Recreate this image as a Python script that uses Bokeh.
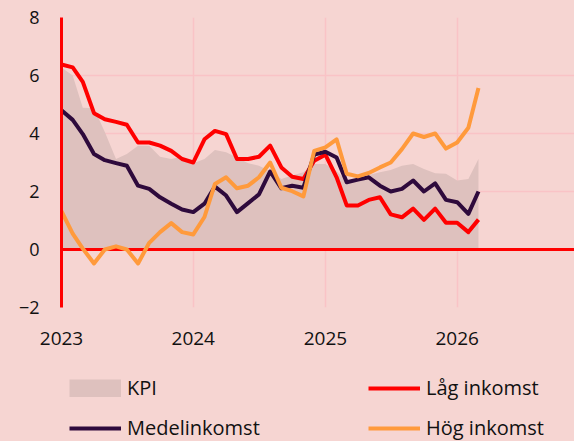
import pandas as pd
from bokeh.plotting import figure
from bokeh.layouts import column
from bokeh.models import (Range1d, FixedTicker, DatetimeTickFormatter, Legend,
                          LegendItem)
from bokeh.embed import file_html
from bokeh.resources import INLINE

# ---- data -------------------------------------------------------------
months = pd.date_range("2023-01-01", periods=39, freq="MS")

kpi = [6.28, 6.00, 4.89, 4.87, 4.05, 3.12, 3.29, 3.58, 3.58, 3.20, 3.12, 3.20,
       2.97, 3.12, 3.43, 3.35, 3.17, 2.97, 2.89, 2.70, 2.43, 2.55, 2.66, 2.95,
       2.95, 2.70, 2.35, 2.43, 2.57, 2.66, 2.74, 2.89, 2.95, 2.78, 2.63, 2.61,
       2.38, 2.43, 3.12]
lag = [6.38, 6.28, 5.78, 4.70, 4.49, 4.40, 4.30, 3.69, 3.69, 3.58, 3.40, 3.12,
       3.00, 3.80, 4.09, 3.98, 3.12, 3.12, 3.20, 3.58, 2.83, 2.51, 2.43, 3.06,
       3.27, 2.49, 1.52, 1.52, 1.71, 1.80, 1.21, 1.11, 1.41, 1.02, 1.41, 0.92,
       0.92, 0.60, 1.03]
medel = [4.80, 4.47, 3.98, 3.29, 3.08, 2.98, 2.89, 2.20, 2.09, 1.80, 1.58, 1.38,
         1.29, 1.58, 2.17, 1.86, 1.29, 1.60, 1.90, 2.69, 2.11, 2.20, 2.13, 3.27,
         3.37, 3.17, 2.32, 2.41, 2.49, 2.20, 2.00, 2.09, 2.38, 2.00, 2.28, 1.71,
         1.63, 1.23, 2.00]
hog = [1.32, 0.55, 0.03, -0.48, 0.00, 0.11, 0.00, -0.48, 0.23, 0.60, 0.91, 0.60,
       0.52, 1.12, 2.26, 2.49, 2.11, 2.20, 2.49, 3.00, 2.13, 2.01, 1.83, 3.40,
       3.52, 3.80, 2.61, 2.52, 2.64, 2.83, 3.00, 3.46, 4.00, 3.88, 4.00, 3.48,
       3.69, 4.20, 5.57]

year_ticks = ["2023-01-01", "2024-01-01", "2025-01-01", "2026-01-01"]
y_ticks = [-2, 0, 2, 4, 6, 8]
labels = ["KPI", "Låg inkomst", "Medelinkomst", "Hög inkomst"]

# ---- style ------------------------------------------------------------
BG = "#F6D5D2"
GRID = "#F9C3C6"
C_KPI = "#DEC1BE"
C_LAG = "#FF0000"
C_MED = "#2E0A3C"
C_HOG = "#FF9A3C"
FONT = "Open Sans"
TXT = "#111111"

x_ticks_ms = [pd.Timestamp(t).value / 1e6 for t in year_ticks]

# ---- main chart -------------------------------------------------------
p = figure(width=574, height=360, x_axis_type="datetime",
           output_backend="svg", toolbar_location=None,
           x_range=Range1d(pd.Timestamp("2023-01-01"), pd.Timestamp("2026-11-22")),
           y_range=Range1d(-2, 8),
           min_border_left=61, min_border_top=17, min_border_right=0,
           min_border_bottom=53)
p.background_fill_color = BG
p.border_fill_color = BG
p.outline_line_color = None

p.varea(x=months, y1=0, y2=kpi, fill_color=C_KPI)
p.hspan(y=[0], line_color=C_LAG, line_width=3)
p.line(months, lag, line_color=C_LAG, line_width=4, line_join="round")
p.line(months, medel, line_color=C_MED, line_width=4, line_join="round")
p.line(months, hog, line_color=C_HOG, line_width=4, line_join="round")

xa = p.xaxis[0]
xa.ticker = FixedTicker(ticks=x_ticks_ms)
xa.formatter = DatetimeTickFormatter(years="%Y", months="%Y", days="%Y")
xa.axis_line_color = None
xa.major_tick_line_color = None
xa.minor_tick_line_color = None
xa.major_tick_out = 0
xa.major_tick_in = 0
xa.major_label_standoff = 24
xa.major_label_text_font = FONT
xa.major_label_text_font_size = "19px"
xa.major_label_text_color = TXT

ya = p.yaxis[0]
ya.ticker = FixedTicker(ticks=y_ticks)
ya.axis_line_color = C_LAG
ya.axis_line_width = 3
ya.major_tick_line_color = None
ya.minor_tick_line_color = None
ya.major_tick_out = 0
ya.major_tick_in = 0
ya.major_label_standoff = 22
ya.major_label_text_font = FONT
ya.major_label_text_font_size = "18px"
ya.major_label_text_color = TXT

p.xgrid.ticker = FixedTicker(ticks=x_ticks_ms)
p.ygrid.ticker = FixedTicker(ticks=y_ticks)
for g in (p.xgrid[0], p.ygrid[0]):
    g.grid_line_color = GRID
    g.grid_line_width = 1.5

# ---- legend strip (proxy keys, drawn outside the visible range) -------
lg = figure(width=574, height=81, output_backend="svg", toolbar_location=None,
            x_range=Range1d(0, 1), y_range=Range1d(0, 1),
            x_axis_location=None, y_axis_location=None,
            min_border=0)
lg.background_fill_color = None
lg.border_fill_color = BG
lg.outline_line_color = None
lg.grid.visible = False

off = dict(x=[-5, -4], y=[-5, -5])
k_kpi = lg.line(line_color=C_KPI, line_width=18, line_cap="butt", **off)
k_lag = lg.line(line_color=C_LAG, line_width=4, **off)
k_med = lg.line(line_color=C_MED, line_width=4, **off)
k_hog = lg.line(line_color=C_HOG, line_width=4, **off)

legend = Legend(
    items=[LegendItem(label=labels[0], renderers=[k_kpi]),
           LegendItem(label=labels[2], renderers=[k_med]),
           LegendItem(label=labels[1], renderers=[k_lag]),
           LegendItem(label=labels[3], renderers=[k_hog])],
    orientation="vertical", ncols=2, location=(8, 0),
    glyph_width=52, glyph_height=18, label_standoff=6,
    label_width=228, spacing=13, padding=0, margin=0,
    label_text_font=FONT, label_text_font_size="20px",
    label_text_color=TXT,
    background_fill_alpha=0, border_line_color=None)
lg.add_layout(legend, "center")

page = column(p, lg, spacing=0, styles={"background-color": BG})
open("out.html", "w").write(file_html(page, INLINE))
